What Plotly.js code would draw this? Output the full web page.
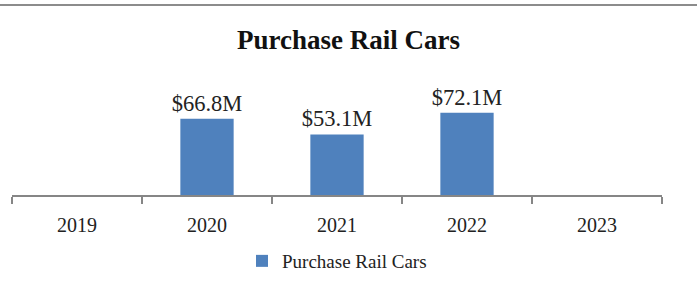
<!DOCTYPE html>
<html>
<head>
<meta charset="utf-8">
<script src="https://cdn.plot.ly/plotly-3.0.1.min.js"></script>
<style>html,body{margin:0;padding:0;background:#fff;}#chart{width:697px;height:290px;}</style>
</head>
<body>
<div id="chart"></div>
<script>
const years = ["2019", "2020", "2021", "2022", "2023"];
const values = [null, 66.8, 53.1, 72.1, null];
const seriesName = "Purchase Rail Cars";
const chartTitle = "Purchase Rail Cars";

const font = "Liberation Serif, Times New Roman, serif";
const trace = {
  type: "bar",
  x: years,
  y: values,
  name: seriesName,
  marker: {color: "#4f81bd"},
  text: values.map(v => v == null ? "" : "$" + v.toFixed(1) + "M"),
  textposition: "outside",
  constraintext: "none",
  textfont: {family: font, size: 22.5, color: "#222"},
  cliponaxis: false,
  showlegend: true,
  hoverinfo: "none"
};
const layout = {
  width: 697, height: 290,
  margin: {l: 12, r: 35, t: 60, b: 95, autoexpand: false},
  paper_bgcolor: "#fff", plot_bgcolor: "#fff",
  title: {text: "<b>" + chartTitle + "</b>", font: {family: font, size: 27, color: "#111"},
          x: 0.5, xref: "container", xanchor: "center", y: 0.862, yanchor: "middle"},
  bargap: 0.59,
  xaxis: {type: "category", showline: true, linecolor: "#868686", linewidth: 1.5,
          ticks: "outside", tickson: "boundaries", ticklen: 7, tickcolor: "#868686", tickwidth: 1.5,
          ticklabelstandoff: 11,
          tickfont: {family: font, size: 20, color: "#222"}, showgrid: false, zeroline: false, fixedrange: true},
  yaxis: {range: [0, 118.4], visible: false, showgrid: false, zeroline: false, fixedrange: true},
  showlegend: true,
  legend: {orientation: "h", x: 0.5, xanchor: "center", y: -0.489, yanchor: "middle",
           font: {family: font, size: 19, color: "#222"}, itemwidth: 30},
  shapes: [{type: "line", xref: "paper", yref: "paper", x0: -12/650, x1: 685/650, y0: 1.407, y1: 1.407,
            line: {color: "#8c8c8c", width: 2}}]
};
Plotly.newPlot("chart", [trace], layout, {displayModeBar: false, staticPlot: true});
</script>
</body>
</html>
